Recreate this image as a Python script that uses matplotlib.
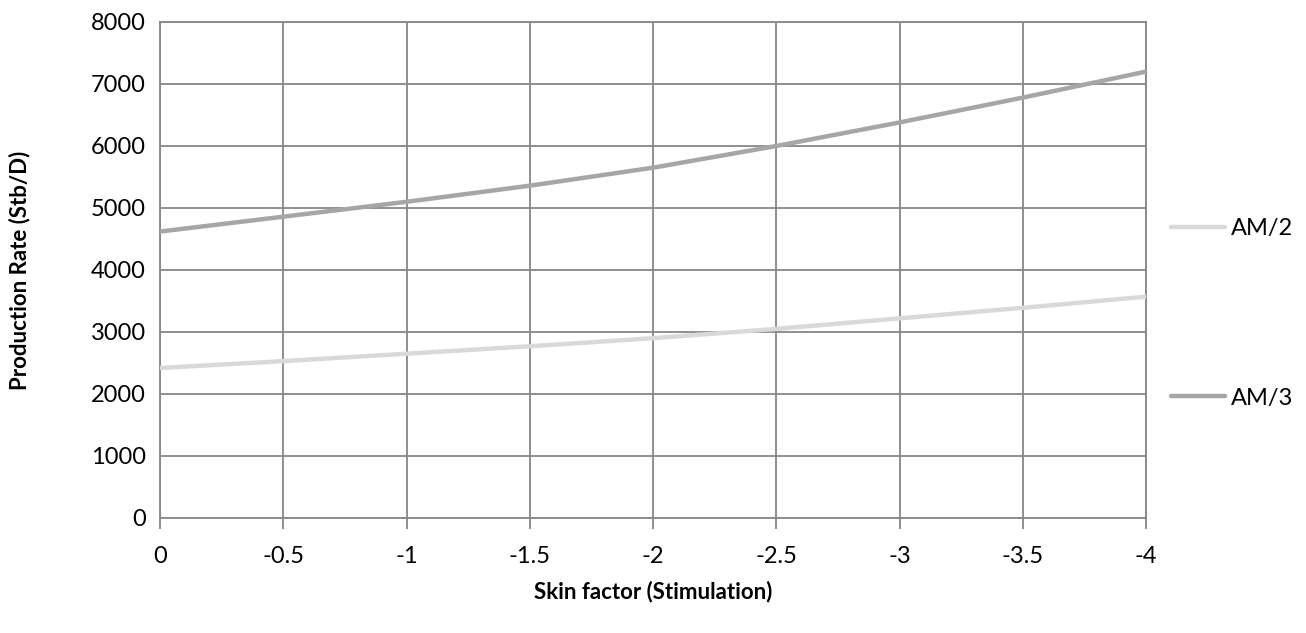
import matplotlib
matplotlib.use('AGG')
import matplotlib.pyplot as plt

# skin factor values (stimulation, so negative)
skin = [0, -0.5, -1, -1.5, -2, -2.5, -3, -3.5, -4]
am2 = [2420, 2530, 2650, 2770, 2900, 3050, 3220, 3390, 3570]
am3 = [4620, 4860, 5100, 5360, 5650, 6000, 6380, 6780, 7200]

xticks = [0, -0.5, -1, -1.5, -2, -2.5, -3, -3.5, -4]
xticklabels = ['0', '-0.5', '-1', '-1.5', '-2', '-2.5', '-3', '-3.5', '-4']
yticks = [0, 1000, 2000, 3000, 4000, 5000, 6000, 7000, 8000]

plt.rcParams['font.family'] = ['Lato', 'DejaVu Sans']

fig = plt.figure(figsize=(13.06, 6.33), dpi=100)
ax = fig.add_axes([160 / 1306, 1 - 518 / 633, 986 / 1306, 496 / 633])

grid_c = '#878787'
ax.plot(skin, am2, color='#d9d9d9', lw=3.2, label='AM/2', solid_capstyle='round', zorder=3)
ax.plot(skin, am3, color='#a6a6a6', lw=3.2, label='AM/3', solid_capstyle='round', zorder=3)

ax.set_xlim(0, -4)
ax.set_ylim(0, 8000)
ax.set_xticks(xticks)
ax.set_xticklabels(xticklabels)
ax.set_yticks(yticks)
ax.grid(True, color=grid_c, lw=1.3)
for s in ax.spines.values():
    s.set_color(grid_c)
    s.set_linewidth(1.3)
ax.tick_params(axis='x', length=8, color=grid_c, width=1.3, pad=12, labelsize=17)
ax.tick_params(axis='y', length=0, pad=10, labelsize=17)

ax.set_xlabel('Skin factor (Stimulation)', fontsize=16, fontweight='bold', labelpad=10)
ax.set_ylabel('Production Rate (Stb/D)', fontsize=16, fontweight='bold', labelpad=44)

ax.legend(loc='center left', bbox_to_anchor=(1.004, 0.413), frameon=False,
          fontsize=17, handlelength=2.3, handletextpad=0.25, labelspacing=6.3)

plt.savefig('out.png', dpi=100)
